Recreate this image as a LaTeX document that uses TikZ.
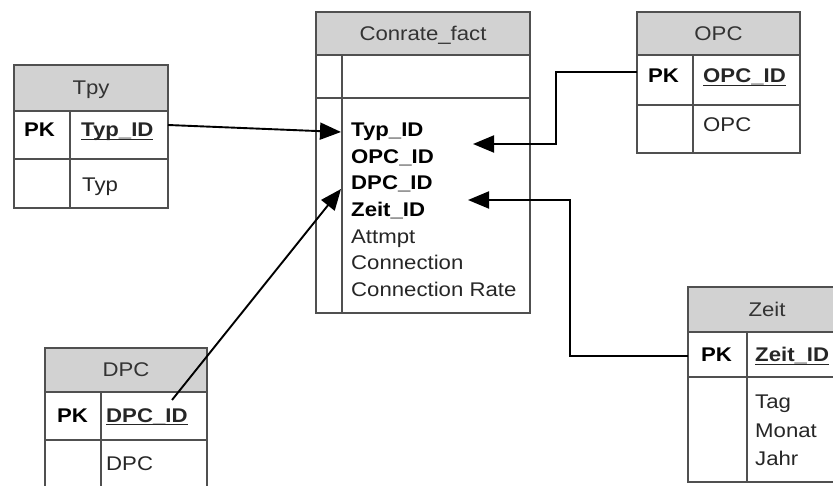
\documentclass[tikz,border=0pt]{standalone}
\usepackage{fontspec}
\setmainfont[FakeStretch=1.12]{Liberation Sans}
\usetikzlibrary{arrows.meta}

\definecolor{hdrgray}{RGB}{210,210,210}
\definecolor{rulegray}{RGB}{80,80,80}

% key field: bold text with a close underline
\newcommand\pkfield[1]{\setbox0=\hbox{\bfseries #1}\rlap{\rule[-3.4pt]{\wd0}{1.5pt}}\box0}

\begin{document}
\begin{tikzpicture}[x=1pt,y=-1pt,
  font=\fontsize{19.8}{26}\selectfont,
  box/.style={draw=rulegray, line width=1.7pt, rectangle, inner sep=0pt,
              outer sep=0pt, anchor=north west},
  head/.style={box, fill=hdrgray, text height=14pt, text depth=0pt, text=black!80},
  divider/.style={draw=rulegray, line width=1.7pt},
  txt/.style={anchor=base west, inner sep=0pt, text=black!85},
  keytxt/.style={txt, font=\fontsize{19.8}{26}\selectfont\bfseries, text=black},
  fk/.style={draw=black, line width=1.9pt, -{Triangle[length=21pt,width=17pt]}}]

\useasboundingbox (0,0) rectangle (833,486);
\clip (0,0) rectangle (833,486);

% ---------- Tpy ----------
\node[head, minimum width=154, minimum height=46] (tpyhead) at (14,65) {Tpy};
\node[box, minimum width=154, minimum height=48] (tpypk) at (14,111) {};
\node[box, minimum width=154, minimum height=49] (tpyattr) at (14,159) {};
\draw[divider] (70,111) -- (70,208);
\node[keytxt] (tpypkl) at (24,137) {PK};
\node[txt] (tpyid) at (81,137) {\pkfield{Typ\_ID}};
\node[txt] (tpytyp) at (82,192) {Typ};

% ---------- Conrate_fact ----------
\node[head, minimum width=214, minimum height=43] (facthead) at (316,12) {Conrate\_fact};
\node[box, minimum width=214, minimum height=43] (factkey) at (316,55) {};
\node[box, minimum width=214, minimum height=215] (factbody) at (316,98) {};
\draw[divider] (342,55) -- (342,313);
\node[keytxt] (ftyp)  at (351,136.7) {Typ\_ID};
\node[keytxt] (fopc)  at (351,163.3) {OPC\_ID};
\node[keytxt] (fdpc)  at (351,190)   {DPC\_ID};
\node[keytxt] (fzeit) at (351,216.7) {Zeit\_ID};
\node[txt] (fatt)  at (351,243.3) {Attmpt};
\node[txt] (fconn) at (351,270)   {Connection};
\node[txt] (frate) at (351,296.7) {Connection Rate};

% ---------- OPC ----------
\node[head, minimum width=163, minimum height=43] (opchead) at (637,12) {OPC};
\node[box, minimum width=163, minimum height=50] (opcpk) at (637,55) {};
\node[box, minimum width=163, minimum height=48] (opcattr) at (637,105) {};
\draw[divider] (693,55) -- (693,153);
\node[keytxt] (opcpkl) at (648,83) {PK};
\node[txt] (opcid) at (703,83) {\pkfield{OPC\_ID}};
\node[txt] (opcopc) at (703,132) {OPC};

% ---------- DPC ----------
\node[head, minimum width=162, minimum height=44] (dpchead) at (45,348) {DPC};
\node[box, minimum width=162, minimum height=48] (dpcpk) at (45,392) {};
\node[box, minimum width=162, minimum height=70] (dpcattr) at (45,440) {};
\draw[divider] (101,392) -- (101,510);
\node[keytxt] (dpcpkl) at (57,422) {PK};
\node[txt] (dpcid) at (106,422) {\pkfield{DPC\_ID}};
\node[txt] (dpcdpc) at (106,470) {DPC};

% ---------- Zeit ----------
\node[head, minimum width=158, minimum height=45] (zeithead) at (688,287) {Zeit};
\node[box, minimum width=158, minimum height=45] (zeitpk) at (688,332) {};
\node[box, minimum width=158, minimum height=105] (zeitattr) at (688,377) {};
\draw[divider] (747,332) -- (747,482);
\node[keytxt] (zeitpkl) at (701,362) {PK};
\node[txt] (zeitid) at (755,362) {\pkfield{Zeit\_ID}};
\node[txt] (zeittag) at (755,408) {Tag};
\node[txt] (zeitmon) at (755,437) {Monat};
\node[txt] (zeitjahr) at (755,465) {Jahr};

% ---------- foreign key connectors ----------
\coordinate (typtip)  at (341,132);
\coordinate (opcbend) at (556,144);
\coordinate (opctip)  at (473,144);
\coordinate (zeitbend) at (570,200);
\coordinate (zeittip)  at (468,200);
\coordinate (dpcsrc)  at (172,400);
\coordinate (dpctip)  at (341,189);

\draw[fk] ([yshift=10pt]tpypk.east) -- (typtip);
\draw[fk] ([yshift=8pt]opcpk.west) -| (opcbend) -- (opctip);
\draw[fk] ([yshift=-1.5pt]zeitpk.west) -| (zeitbend) -- (zeittip);
\draw[fk] (dpcsrc) -- (dpctip);

\end{tikzpicture}
\end{document}
